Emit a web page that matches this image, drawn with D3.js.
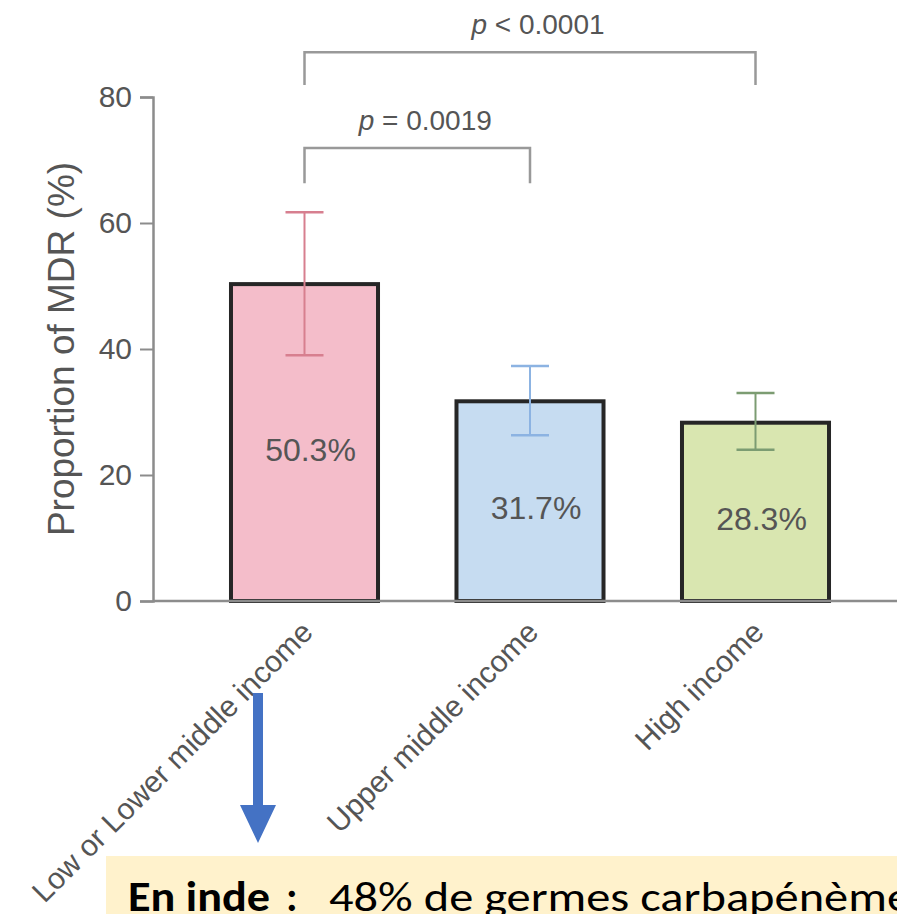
<!DOCTYPE html>
<html>
<head>
<meta charset="utf-8">
<script src="https://cdn.jsdelivr.net/npm/d3@7"></script>
<style>
  html, body { margin: 0; padding: 0; background: #fff; overflow: hidden; }
  svg { display: block; }
</style>
</head>
<body>
<svg id="chart"></svg>
<script>
const width = 897;
const height = 914;

// data
const categories = ['Low or Lower middle income', 'Upper middle income', 'High income'];
const values = [50.3, 31.7, 28.3];
const errLow = [39, 26.3, 24];
const errHigh = [61.7, 37.3, 33];
const yTicks = [0, 20, 40, 60, 80];
const fills = ['#f4bdca', '#c6dcf1', '#d9e6b0'];
const errColors = ['#d77f8f', '#8cb3e2', '#7c9c72'];
const comparisons = [
  { from: 0, to: 1, top: 71.9, leg: 66.3, label: '= 0.0019' },
  { from: 0, to: 2, top: 87.1, leg: 81.9, label: '< 0.0001' }
];
const note = { bold: 'En inde', rest: '48% de germes carbapénème' };

const svg = d3.select('#chart')
  .attr('width', width)
  .attr('height', height);

const x = d3.scaleBand()
  .domain(categories)
  .range([191.75, 868.25])
  .paddingInner(0.348)
  .paddingOuter(0.174);

const y = d3.scaleLinear()
  .domain([0, 80])
  .range([601, 97]);

const axisColor = '#8c8c8c';
const textColor = '#555';
const font = 'Liberation Sans, Arial, sans-serif';

// y axis
const yAxis = svg.append('g')
  .attr('transform', 'translate(153,0)')
  .call(d3.axisLeft(y).tickValues(yTicks).tickSize(13).tickPadding(8));
yAxis.select('.domain').attr('stroke', axisColor).attr('stroke-width', 2.5);
yAxis.selectAll('.tick line').attr('stroke', axisColor).attr('stroke-width', 2);
yAxis.selectAll('.tick text')
  .attr('fill', textColor)
  .style('font-family', font)
  .style('font-size', '30px');

svg.append('text')
  .attr('transform', 'translate(74,349) rotate(-90)')
  .attr('text-anchor', 'middle')
  .attr('fill', textColor)
  .style('font-family', font)
  .style('font-size', '37px')
  .text('Proportion of MDR (%)');

// bars
const bars = svg.append('g').selectAll('g')
  .data(categories)
  .join('g');

bars.append('rect')
  .attr('x', d => x(d))
  .attr('y', (d, i) => y(values[i]))
  .attr('width', x.bandwidth())
  .attr('height', (d, i) => y(0) - y(values[i]))
  .attr('fill', (d, i) => fills[i])
  .attr('stroke', '#262626')
  .attr('stroke-width', 4);

// error bars
const cx = d => x(d) + x.bandwidth() / 2;
bars.append('line')
  .attr('x1', cx).attr('x2', cx)
  .attr('y1', (d, i) => y(errLow[i]))
  .attr('y2', (d, i) => y(errHigh[i]))
  .attr('stroke', (d, i) => errColors[i])
  .attr('stroke-width', 2);
[errLow, errHigh].forEach(arr => {
  bars.append('line')
    .attr('x1', d => cx(d) - 19).attr('x2', d => cx(d) + 19)
    .attr('y1', (d, i) => y(arr[i]))
    .attr('y2', (d, i) => y(arr[i]))
    .attr('stroke', (d, i) => errColors[i])
    .attr('stroke-width', 2.5);
});

// value labels
bars.append('text')
  .attr('x', d => cx(d) + 6)
  .attr('y', (d, i) => y(values[i] / 2) + 18)
  .attr('text-anchor', 'middle')
  .attr('fill', textColor)
  .style('font-family', font)
  .style('font-size', '32px')
  .text((d, i) => values[i].toFixed(1) + '%');

// x axis
svg.append('line')
  .attr('x1', 153).attr('x2', width)
  .attr('y1', y(0)).attr('y2', y(0))
  .attr('stroke', axisColor)
  .attr('stroke-width', 2.5);

svg.append('g').selectAll('text')
  .data(categories)
  .join('text')
  .attr('transform', d => `translate(${cx(d) + 10},${y(0) + 33}) rotate(-45)`)
  .attr('text-anchor', 'end')
  .attr('fill', textColor)
  .style('font-family', font)
  .style('font-size', '30px')
  .text(d => d);

// significance brackets
const brackets = svg.append('g').selectAll('g')
  .data(comparisons)
  .join('g');
brackets.append('path')
  .attr('d', c => {
    const x1 = cx(categories[c.from]);
    const x2 = cx(categories[c.to]);
    return `M${x1},${y(c.leg)}V${y(c.top)}H${x2}V${y(c.leg)}`;
  })
  .attr('fill', 'none')
  .attr('stroke', '#999')
  .attr('stroke-width', 2.5);
const pText = brackets.append('text')
  .attr('x', c => (cx(categories[c.from]) + cx(categories[c.to])) / 2 + 8)
  .attr('y', c => y(c.top) - 18)
  .attr('text-anchor', 'middle')
  .attr('fill', textColor)
  .style('font-family', font)
  .style('font-size', '28px');
pText.append('tspan').style('font-style', 'italic').text('p');
pText.append('tspan').text(c => ' ' + c.label);

// annotation arrow
svg.append('path')
  .attr('d', 'M253,693H263V805H276L258,843L240,805H253Z')
  .attr('fill', '#4472c4');

// note box
svg.append('rect')
  .attr('x', 106).attr('y', 856)
  .attr('width', width - 106).attr('height', height - 856)
  .attr('fill', '#fff2cc');

const noteFont = 'Carlito, "Open Sans", sans-serif';
svg.append('text')
  .attr('x', 128).attr('y', 911)
  .attr('textLength', 142).attr('lengthAdjust', 'spacingAndGlyphs')
  .style('font-family', noteFont).style('font-size', '42px').style('font-weight', 'bold')
  .text(note.bold);
svg.append('text')
  .attr('x', 286).attr('y', 911)
  .style('font-family', noteFont).style('font-size', '42px').style('font-weight', 'bold')
  .text(':');
svg.append('text')
  .attr('x', 329).attr('y', 911)
  .attr('textLength', 582).attr('lengthAdjust', 'spacingAndGlyphs')
  .style('font-family', noteFont).style('font-size', '42px')
  .text(note.rest);
</script>
</body>
</html>
